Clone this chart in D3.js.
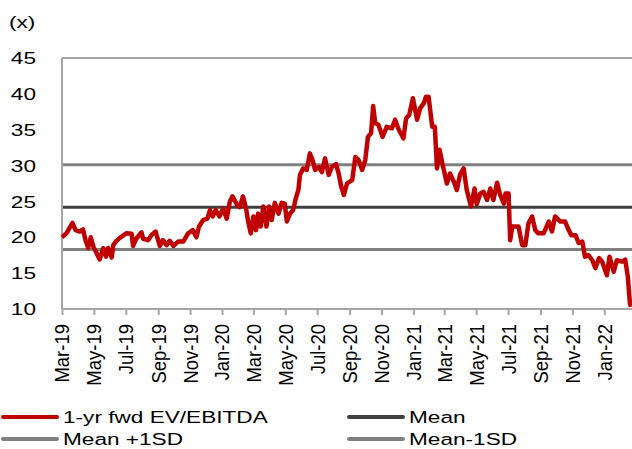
<!DOCTYPE html>
<html>
<head>
<meta charset="utf-8">
<script src="https://cdn.jsdelivr.net/npm/d3@7"></script>
<style>
  body { margin: 0; background: #fff; }
  text { font-family: "Liberation Sans", Arial, sans-serif; fill: #000; }
</style>
</head>
<body>
<script>
// 1-yr fwd EV/EBITDA
const dates = [
  "2019-03-01","2019-03-10","2019-03-21","2019-03-27","2019-04-04","2019-04-10","2019-04-15","2019-04-20",
  "2019-04-25","2019-04-30","2019-05-06","2019-05-12","2019-05-19","2019-05-24","2019-05-28","2019-06-04",
  "2019-06-07","2019-06-13","2019-06-23","2019-07-02","2019-07-12","2019-07-15","2019-07-21","2019-07-31",
  "2019-08-03","2019-08-13","2019-08-19","2019-08-27","2019-09-04","2019-09-10","2019-09-17","2019-09-23",
  "2019-09-30","2019-10-09","2019-10-19","2019-10-28","2019-11-06","2019-11-13","2019-11-18","2019-11-26",
  "2019-12-04","2019-12-09","2019-12-14","2019-12-20","2019-12-27","2020-01-03","2020-01-10","2020-01-16",
  "2020-01-21","2020-01-30","2020-02-04","2020-02-10","2020-02-16","2020-02-20","2020-02-25","2020-03-01",
  "2020-03-06","2020-03-10","2020-03-15","2020-03-20","2020-03-26","2020-03-31","2020-04-05","2020-04-11",
  "2020-04-18","2020-04-24","2020-04-30","2020-05-04","2020-05-10","2020-05-16","2020-05-21","2020-05-26",
  "2020-05-29","2020-06-04","2020-06-11","2020-06-17","2020-06-22","2020-06-27","2020-07-04","2020-07-10",
  "2020-07-16","2020-07-23","2020-07-29","2020-08-06","2020-08-11","2020-08-16","2020-08-21","2020-08-27",
  "2020-09-06","2020-09-12","2020-09-18","2020-09-25","2020-10-01","2020-10-06","2020-10-12","2020-10-16",
  "2020-10-20","2020-10-26","2020-11-03","2020-11-11","2020-11-21","2020-11-27","2020-12-04","2020-12-13",
  "2020-12-18","2020-12-24","2020-12-31","2021-01-08","2021-01-14","2021-01-21","2021-01-25","2021-01-30",
  "2021-02-06","2021-02-11","2021-02-15","2021-02-20","2021-02-26","2021-03-06","2021-03-12","2021-03-19",
  "2021-03-25","2021-03-31","2021-04-07","2021-04-13","2021-04-21","2021-04-28","2021-05-02","2021-05-09",
  "2021-05-15","2021-05-22","2021-05-28","2021-06-03","2021-06-10","2021-06-16","2021-06-23","2021-06-26",
  "2021-07-02","2021-07-05","2021-07-09","2021-07-15","2021-07-21","2021-07-28","2021-08-03","2021-08-09",
  "2021-08-16","2021-08-22","2021-08-28","2021-09-07","2021-09-17","2021-09-23","2021-09-29","2021-10-09",
  "2021-10-18","2021-10-25","2021-10-30","2021-11-07","2021-11-13","2021-11-20","2021-11-25","2021-12-02",
  "2021-12-09","2021-12-15","2021-12-22","2021-12-28","2022-01-06","2022-01-11","2022-01-19","2022-01-25",
  "2022-02-04","2022-02-10","2022-02-15","2022-02-19","2022-02-21"
];
const evEbitda = [
  20.0,20.6,22.0,21.0,20.8,21.1,19.6,18.5,
  20.0,18.7,17.8,16.9,18.5,17.3,18.5,17.2,
  18.9,19.5,20.1,20.55,20.5,18.8,19.8,20.7,
  19.8,19.6,20.3,20.8,18.8,19.6,18.9,19.5,
  18.8,19.4,19.4,20.55,21.0,20.0,21.5,22.4,
  22.6,23.8,22.9,23.8,22.9,24.0,22.6,25.0,
  25.7,24.5,24.2,25.7,24.0,22.2,20.55,22.9,
  21.0,23.3,21.5,24.3,21.5,24.3,22.4,24.8,
  23.3,24.8,24.7,22.2,23.3,23.8,25.4,26.6,
  28.7,29.6,29.4,31.7,30.8,29.4,29.8,29.1,
  31.0,28.7,29.8,30.2,28.9,27.05,25.9,27.5,
  28.0,31.2,30.8,29.4,30.8,34.0,34.5,38.3,
  35.9,35.7,34.0,35.4,35.2,36.4,35.0,33.8,
  36.6,37.05,39.4,36.4,38.0,38.7,39.6,39.6,
  35.4,35.4,29.6,32.2,30.1,27.5,28.9,27.8,
  26.6,28.7,29.6,26.6,24.3,26.8,24.6,26.1,
  26.35,25.2,26.8,25.2,27.6,25.9,24.7,26.1,
  26.1,19.6,21.5,21.5,21.5,18.9,18.9,21.95,
  22.9,21.0,20.55,20.55,22.2,20.8,22.9,22.2,
  22.2,21.0,20.3,20.3,19.2,19.4,17.3,17.5,
  16.8,15.7,17.1,16.6,14.7,17.3,15.2,16.8,
  16.6,16.9,14.5,10.8,10.3
];

// reference levels
const meanValue = 24.2;
const plus1SD = 30.1;
const minus1SD = 18.3;

const yTicks = [10, 15, 20, 25, 30, 35, 40, 45];
const legendItems = ["1-yr fwd EV/EBITDA", "Mean", "Mean +1SD", "Mean-1SD"];
const legendColors = ["#c00000", "#404040", "#808080", "#808080"];

const parseDate = d3.timeParse("%Y-%m-%d");
const data = dates.map((d, i) => ({ date: parseDate(d), value: evEbitda[i] }));

const width = 632, height = 449;
const margin = { top: 58, right: 0, bottom: 140, left: 62 };
const stretch = 1.33; // text in the original is widened horizontally

const svg = d3.select("body").append("svg")
  .attr("width", width)
  .attr("height", height);

const x = d3.scaleTime()
  .domain([parseDate("2019-03-01"), parseDate("2022-02-23")])
  .range([margin.left, width - margin.right]);

const y = d3.scaleLinear()
  .domain([10, 45])
  .range([height - margin.bottom, margin.top]);

// frame: top, left
svg.append("line")
  .attr("x1", margin.left).attr("x2", width)
  .attr("y1", y(45)).attr("y2", y(45))
  .attr("stroke", "#a6a6a6").attr("stroke-width", 2);

svg.append("line")
  .attr("x1", margin.left).attr("x2", margin.left)
  .attr("y1", y(45)).attr("y2", y(10))
  .attr("stroke", "#a6a6a6").attr("stroke-width", 2);

const xAxis = d3.axisBottom(x)
  .ticks(d3.timeMonth.every(2))
  .tickSize(6)
  .tickFormat("");

const gx = svg.append("g")
  .attr("transform", `translate(0,${y(10)})`)
  .call(xAxis);
gx.select(".domain").attr("stroke", "#a6a6a6").attr("stroke-width", 2)
  .attr("d", `M${margin.left},0H${width}`);
gx.selectAll(".tick line").attr("stroke", "#a6a6a6").attr("stroke-width", 2);

// rotated month labels
const monthTicks = x.ticks(d3.timeMonth.every(2));
const fmt = d3.timeFormat("%b-%y");
svg.selectAll(".xlabel")
  .data(monthTicks)
  .enter().append("text")
  .attr("class", "xlabel")
  .attr("transform", d => `translate(${x(d)},${y(10) + 15}) scale(1.12,1) rotate(-90)`)
  .attr("text-anchor", "end")
  .attr("dy", "0.36em")
  .style("font-size", "18.5px")
  .text(d => fmt(d));

// y labels
svg.selectAll(".ylabel")
  .data(yTicks)
  .enter().append("text")
  .attr("class", "ylabel")
  .attr("transform", d => `translate(36,${y(d)}) scale(${stretch},1)`)
  .attr("dy", "0.36em")
  .attr("text-anchor", "end")
  .style("font-size", "17px")
  .text(d => d);

svg.append("text")
  .attr("transform", `translate(9,28) scale(${stretch},1)`)
  .style("font-size", "17px")
  .text("(x)");

// mean and SD bands
const refLines = [
  { v: plus1SD, c: "#808080" },
  { v: minus1SD, c: "#808080" },
  { v: meanValue, c: "#404040" }
];
svg.selectAll(".ref")
  .data(refLines)
  .enter().append("line")
  .attr("class", "ref")
  .attr("x1", margin.left + 1).attr("x2", width)
  .attr("y1", d => y(d.v)).attr("y2", d => y(d.v))
  .attr("stroke", d => d.c)
  .attr("stroke-width", 3);

const line = d3.line()
  .x(d => x(d.date))
  .y(d => y(d.value));

svg.append("path")
  .datum(data)
  .attr("fill", "none")
  .attr("stroke", "#c00000")
  .attr("stroke-width", 4.5)
  .attr("stroke-linejoin", "round")
  .attr("d", line);

// legend
const legend = svg.selectAll(".legend")
  .data(legendItems)
  .enter().append("g")
  .attr("class", "legend")
  .attr("transform", (d, i) => `translate(${(i % 2) * 346},${417 + Math.floor(i / 2) * 22})`);

legend.append("line")
  .attr("x1", 3).attr("x2", 57)
  .attr("stroke", (d, i) => legendColors[i])
  .attr("stroke-width", 4)
  .attr("stroke-linecap", "round");

legend.append("text")
  .attr("transform", `translate(63,0) scale(${stretch},1)`)
  .attr("dy", "0.36em")
  .style("font-size", "17px")
  .text(d => d);
</script>
</body>
</html>
